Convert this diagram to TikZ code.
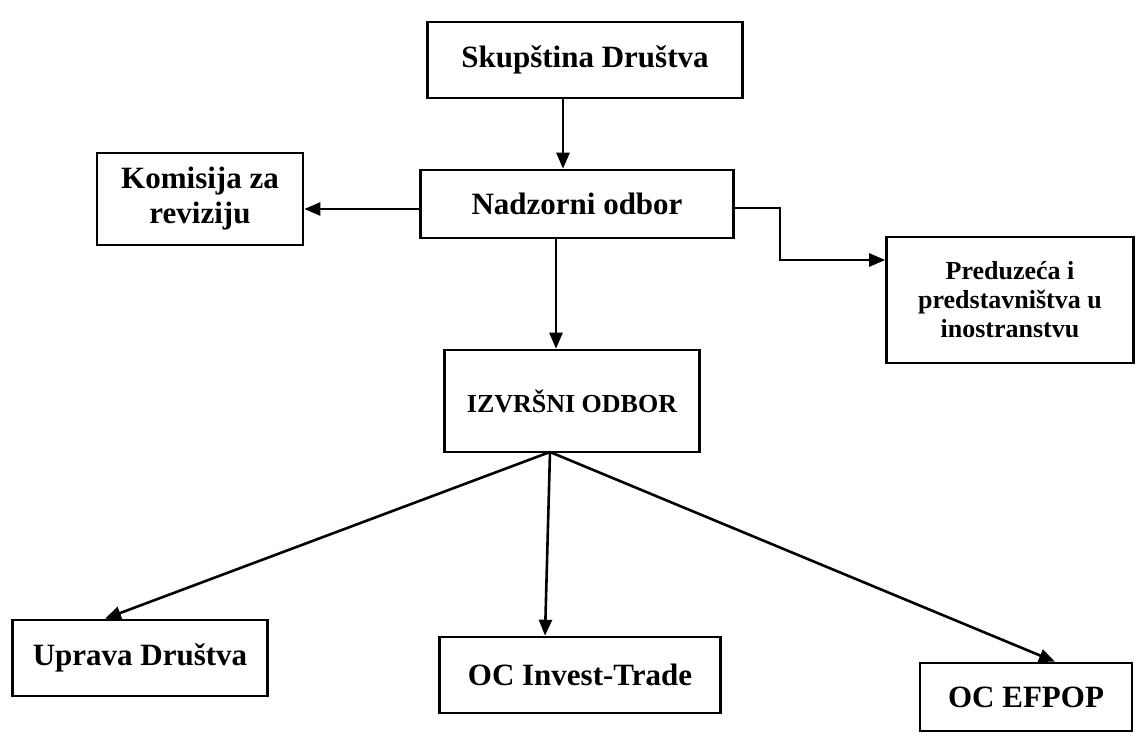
\documentclass[tikz,border=0pt]{standalone}
\usepackage{fontspec}
\setmainfont{Liberation Serif}
\usetikzlibrary{arrows.meta}
\begin{document}
\begin{tikzpicture}[x=1pt,y=-1pt,
 box/.style={draw,line width=2.6pt,inner sep=0pt,align=center,font=\bfseries\fontsize{31}{35}\selectfont},
 smallbox/.style={font=\bfseries\fontsize{26}{29}\selectfont},
 arr/.style={line width=2.6pt,-{Triangle[length=16pt,width=13pt]}},
 ln/.style={line width=2.6pt}]
\useasboundingbox (0,0) rectangle (1136,736);
\fill[white] (0,0) rectangle (1136,736);
% boxes
\node[box,minimum width=315pt,minimum height=76pt] (skup) at (585,60) {Skupština Društva};
\node[box,minimum width=313pt,minimum height=68pt] (nad) at (577,204) {Nadzorni odbor};
\node[box,minimum width=206pt,minimum height=92pt] (kom) at (200,199) {Komisija za\\reviziju};
\node[box,smallbox,minimum width=247pt,minimum height=126pt] (pred) at (1010,300) {Preduzeća i\\predstavništva u\\inostranstvu};
\node[box,smallbox,minimum width=255pt,minimum height=102pt] (izv) at (572,401) {IZVRŠNI ODBOR};
\node[box,minimum width=255pt,minimum height=76pt] (upr) at (140,658) {Uprava Društva};
\node[box,minimum width=281pt,minimum height=76pt] (inv) at (580,675) {OC Invest-Trade};
\node[box,minimum width=212pt,minimum height=68pt] (efp) at (1026,697) {OC EFPOP};
% helper coordinates
\coordinate (c1) at (563,0);
\coordinate (c2) at (556,0);
\coordinate (hub) at (550,452);
\coordinate (bend) at (780,0);
\coordinate (c3) at (105,0);
\coordinate (c4) at (545,0);
\coordinate (c5) at (1055,0);
% connectors
\draw[arr] (skup.south -| c1) -- (nad.north -| c1);
\draw[arr] ([yshift=-5pt]nad.west) -- ([yshift=-5pt]nad.west -| kom.east);
\draw[arr] ([yshift=-4pt]nad.east) -| ([yshift=40pt]pred.west -| bend) -- ([yshift=40pt]pred.west);
\draw[arr] (nad.south -| c2) -- (izv.north -| c2);
\draw[arr] (hub) -- (upr.north -| c3);
\draw[arr] (hub) -- (inv.north -| c4);
\draw[arr] (hub) -- (efp.north -| c5);
\end{tikzpicture}
\end{document}
